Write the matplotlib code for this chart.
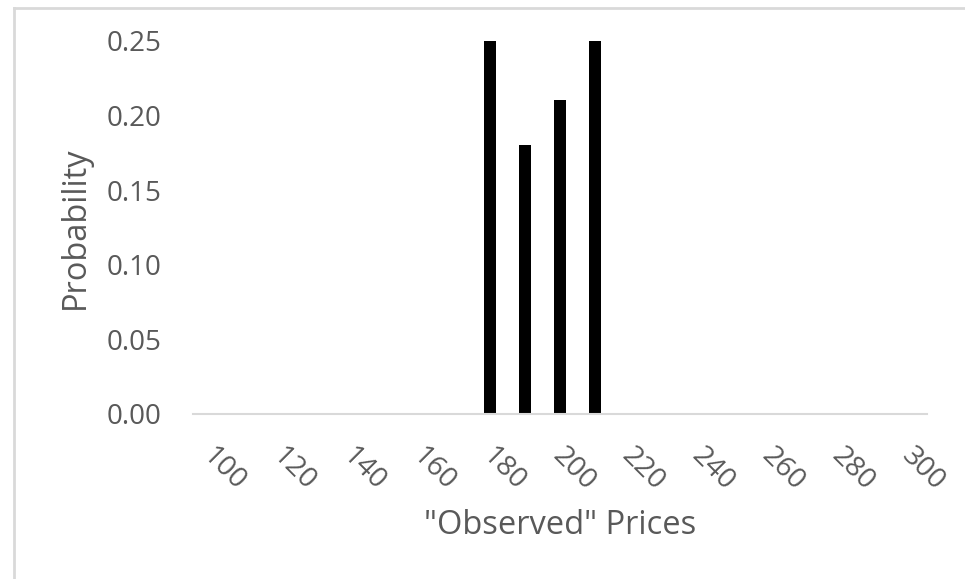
import matplotlib
matplotlib.use("Agg")
import matplotlib.pyplot as plt
import matplotlib.transforms as mtransforms
from matplotlib.lines import Line2D

# price categories (every 10) and their probabilities
prices = [100, 110, 120, 130, 140, 150, 160, 170, 180, 190, 200,
          210, 220, 230, 240, 250, 260, 270, 280, 290, 300]
probability = [0, 0, 0, 0, 0, 0, 0, 0, 0.25, 0.18, 0.21,
               0.25, 0, 0, 0, 0, 0, 0, 0, 0, 0]
tick_labels = [str(p) for p in prices[::2]]
y_ticks = [0.00, 0.05, 0.10, 0.15, 0.20, 0.25]

TEXT = "#595959"
LINE = "#d9d9d9"
plt.rcParams["font.family"] = ["Open Sans", "DejaVu Sans"]

fig = plt.figure(figsize=(9.65, 5.79), dpi=100)
ax_l, ax_r, ax_b, ax_t = 193, 927, 414, 40.7   # plot area in pixels
ax = fig.add_axes([ax_l / 965, 1 - ax_b / 579, (ax_r - ax_l) / 965, (ax_b - ax_t) / 579])

ax.bar(prices, probability, width=3.4, color="black", clip_on=False)

ax.set_xlim(95, 305)
ax.set_ylim(0, 0.25)
ax.set_xticks(prices[::2])
ax.set_xticklabels(tick_labels, rotation=-45, ha="left", va="top",
                   rotation_mode="anchor")
ax.set_yticks(y_ticks)
ax.set_yticklabels([f"{v:.2f}" for v in y_ticks])
ax.tick_params(axis="x", length=0, pad=20, labelsize=20.5, labelcolor=TEXT)
ax.tick_params(axis="y", length=0, pad=23, labelsize=20, labelcolor=TEXT)

# nudge the slanted price labels a little to the right
shift = mtransforms.ScaledTranslation(6 / 100, 0, fig.dpi_scale_trans)
for lbl in ax.get_xticklabels():
    lbl.set_transform(lbl.get_transform() + shift)

for side in ["top", "right", "left"]:
    ax.spines[side].set_visible(False)
ax.spines["bottom"].set_color(LINE)
ax.spines["bottom"].set_linewidth(1.5)

ax.set_ylabel("Probability", fontsize=23.5, color=TEXT, va="center")
ax.yaxis.set_label_coords((75 - ax_l) / (ax_r - ax_l), 0.5)
ax.set_xlabel('"Observed" Prices', fontsize=23.5, color=TEXT, va="center")
ax.xaxis.set_label_coords(0.5, -(525 - ax_b) / (ax_b - ax_t))

# chart area border (only top and left edges are visible)
fig.add_artist(Line2D([14 / 965, 1], [1 - 8 / 579, 1 - 8 / 579],
                      transform=fig.transFigure, color=LINE, lw=2))
fig.add_artist(Line2D([14 / 965, 14 / 965], [0, 1 - 8 / 579],
                      transform=fig.transFigure, color=LINE, lw=2))

fig.savefig("out.png", dpi=100, facecolor="white")
plt.close(fig)
